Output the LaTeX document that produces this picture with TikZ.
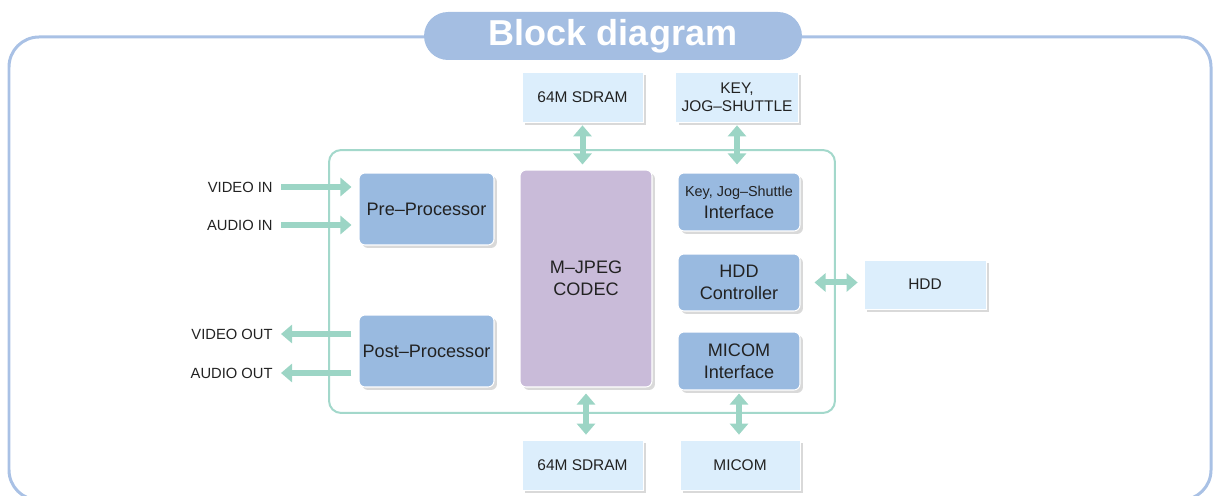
\documentclass[tikz,border=0pt]{standalone}
\usepackage{fontspec}
\setmainfont{Liberation Sans}
\usepackage{xcolor}
\usepackage{tikz}
\usetikzlibrary{arrows.meta,shadows}

\definecolor{framecol}{HTML}{A9C1E5}
\definecolor{titlecol}{HTML}{A4BEE2}
\definecolor{boardcol}{HTML}{A3D8CB}
\definecolor{flowcol}{HTML}{9CD5C5}
\definecolor{extcol}{HTML}{DCEEFC}
\definecolor{blockcol}{HTML}{99BAE0}
\definecolor{codeccol}{HTML}{C9BBD9}
\definecolor{txtcol}{HTML}{222222}

\begin{document}
\begin{tikzpicture}[x=0.02cm, y=-0.02cm,
  ext/.style={fill=extcol, draw=white, line width=0.4pt, text=txtcol, align=center,
    font=\fontsize{8.8}{10.5}\selectfont,
    drop shadow={shadow xshift=0.06cm, shadow yshift=-0.06cm, fill=black!15, opacity=1}},
  blk/.style={fill=blockcol, draw=white, line width=0.6pt, rounded corners=0.12cm, text=txtcol, align=center,
    inner sep=1.5pt, font=\fontsize{10.3}{12.5}\selectfont,
    drop shadow={shadow xshift=0.06cm, shadow yshift=-0.06cm, fill=black!15, opacity=1}},
  lbl/.style={text=txtcol, font=\fontsize{8.4}{10}\selectfont, inner sep=0pt},
  flow/.style={draw=flowcol, line width=0.12cm, -{Triangle[width=0.36cm, length=0.22cm]}},
  bflow/.style={draw=flowcol, line width=0.12cm, {Triangle[width=0.36cm, length=0.22cm]}-{Triangle[width=0.36cm, length=0.22cm]}}]
\useasboundingbox (0,0) rectangle (1213,496);

% outer frame and title
\draw[framecol, line width=0.06cm, rounded corners=0.6cm] (9,37) rectangle (1211,500);
\node[fill=titlecol, rounded corners=0.48cm, minimum width=7.56cm, minimum height=0.96cm,
  text=white, font=\bfseries\fontsize{20.5}{24}\selectfont] (title) at (613,36) {Block diagram};

% board
\node[draw=boardcol, line width=0.04cm, rounded corners=0.24cm, minimum width=10.12cm, minimum height=5.26cm] (board) at (582,281.5) {};

% external parts
\node[ext, minimum width=2.42cm, minimum height=1cm] (sdramA) at (582.5,97) {64M SDRAM};
\node[ext, minimum width=2.4cm, minimum height=1cm] (keyjog) at (737,97) {KEY,\\JOG--SHUTTLE};
\node[ext, minimum width=2.44cm, minimum height=0.98cm] (hdd) at (925,284.5) {HDD};
\node[ext, minimum width=2.42cm, minimum height=1cm] (sdramB) at (582.5,465) {64M SDRAM};
\node[ext, minimum width=2.4cm, minimum height=1cm] (micom) at (740,465) {MICOM};

% blocks
\node[blk, minimum width=2.7cm, minimum height=1.44cm] (pre) at (426.5,209) {Pre--Processor};
\node[blk, minimum width=2.7cm, minimum height=1.44cm] (post) at (426.5,351) {Post--Processor};
\node[blk, fill=codeccol, minimum width=2.64cm, minimum height=4.34cm] (codec) at (586,278.5) {M--JPEG\\CODEC};
\node[blk, minimum width=2.44cm, minimum height=1.16cm] (kif) at (739,202)
  {{\fontsize{8.2}{10}\selectfont Key, Jog--Shuttle}\\Interface};
\node[blk, minimum width=2.44cm, minimum height=1.14cm] (hddc) at (739,282.5) {HDD\\Controller};
\node[blk, minimum width=2.44cm, minimum height=1.16cm] (micif) at (739,361) {MICOM\\Interface};

% signals
\node[lbl, anchor=east] (vin) at (273,187) {VIDEO IN};
\node[lbl, anchor=east] (ain) at (273,225) {AUDIO IN};
\node[lbl, anchor=east] (vout) at (273,334) {VIDEO OUT};
\node[lbl, anchor=east] (aout) at (273,373) {AUDIO OUT};

\draw[flow, shorten <=0.16cm, shorten >=0.14cm] (vin.east) -- (vin.east -| pre.west);
\draw[flow, shorten <=0.16cm, shorten >=0.14cm] (ain.east) -- (ain.east -| pre.west);
\draw[flow, shorten <=0.14cm, shorten >=0.16cm] (vout.east -| post.west) -- (vout.east);
\draw[flow, shorten <=0.14cm, shorten >=0.16cm] (aout.east -| post.west) -- (aout.east);

\draw[bflow, shorten <=0.06cm, shorten >=0.1cm] (sdramA.south) -- (sdramA.south |- codec.north);
\draw[bflow, shorten <=0.06cm, shorten >=0.16cm] (keyjog.south) -- (keyjog.south |- kif.north);
\draw[bflow, shorten <=0.28cm, shorten >=0.12cm] (hddc.east) -- (hddc.east -| hdd.west);
\draw[bflow, shorten <=0.12cm, shorten >=0.1cm] (codec.south) -- (codec.south |- sdramB.north);
\draw[bflow, shorten <=0.06cm, shorten >=0.1cm] (micif.south) -- (micif.south |- micom.north);
\end{tikzpicture}
\end{document}
